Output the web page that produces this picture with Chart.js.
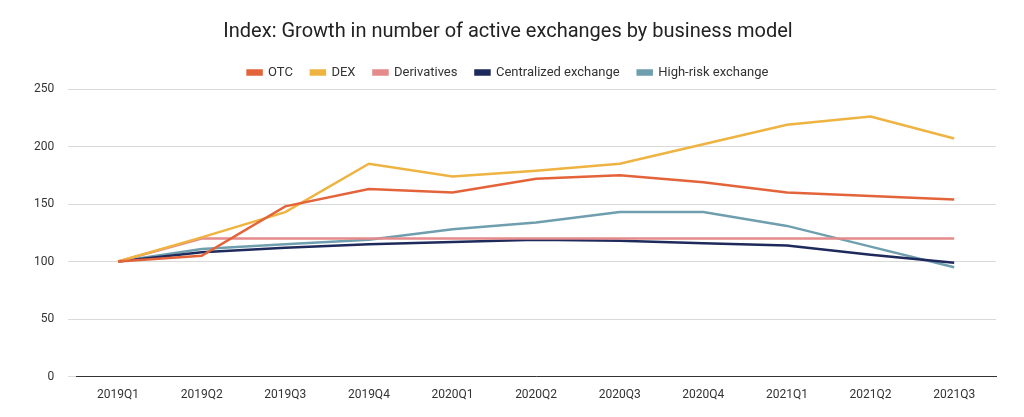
<!DOCTYPE html>
<html>
<head>
<meta charset="utf-8">
<script src="https://cdn.jsdelivr.net/npm/chart.js@4"></script>
<style>
  html, body { margin: 0; padding: 0; background: #fff; }
  #wrap { width: 1024px; height: 417px; }
</style>
</head>
<body>
<div id="wrap"><canvas id="chart"></canvas></div>
<script>
// Quarters and index values
const quarters = ['2019Q1', '2019Q2', '2019Q3', '2019Q4', '2020Q1', '2020Q2', '2020Q3', '2020Q4', '2021Q1', '2021Q2', '2021Q3'];
const otc = [100, 105, 148, 163, 160, 172, 175, 169, 160, 157, 154];
const dex = [100, 121, 143, 185, 174, 179, 185, 202, 219, 226, 207];
const derivatives = [100, 120, 120, 120, 120, 120, 120, 120, 120, 120, 120];
const centralized = [100, 108, 112, 115, 117, 119, 118, 116, 114, 106, 99];
const highRisk = [100, 111, 115, 119, 128, 134, 143, 143, 131, 113, 95];

function line(label, data, color) {
    return { label, data, borderColor: color, backgroundColor: color, borderWidth: 2.5, pointRadius: 0, tension: 0 };
}

new Chart(document.getElementById('chart'), {
    type: 'line',
    data: {
        labels: quarters,
        datasets: [
            line('OTC', otc, '#e3643a'),
            line('DEX', dex, '#eeb340'),
            line('Derivatives', derivatives, '#e58b8b'),
            line('Centralized exchange', centralized, '#1f2a5c'),
            line('High-risk exchange', highRisk, '#6f9fae')
        ]
    },
    options: {
        responsive: true,
        maintainAspectRatio: false,
        animation: false,
        layout: { padding: { left: 20, right: 28, top: 10, bottom: 12 } },
        plugins: {
            title: {
                display: true,
                text: 'Index: Growth in number of active exchanges by business model',
                color: '#222',
                font: { family: 'Roboto', size: 20, weight: 'normal' },
                padding: { top: 10, bottom: 4 }
            },
            legend: {
                labels: {
                    color: '#333',
                    font: { family: 'Roboto', size: 13 },
                    boxWidth: 14,
                    boxHeight: 4,
                    padding: 18
                }
            }
        },
        scales: {
            x: {
                offset: true,
                grid: { display: false },
                border: { color: '#333' },
                ticks: { color: '#333', font: { family: 'Roboto', size: 12 } }
            },
            y: {
                min: 0,
                max: 250,
                ticks: { stepSize: 50, color: '#333', font: { family: 'Roboto', size: 12 }, padding: 14 },
                grid: { color: '#d9d9d9' },
                border: { display: false }
            }
        }
    }
});
</script>
</body>
</html>
